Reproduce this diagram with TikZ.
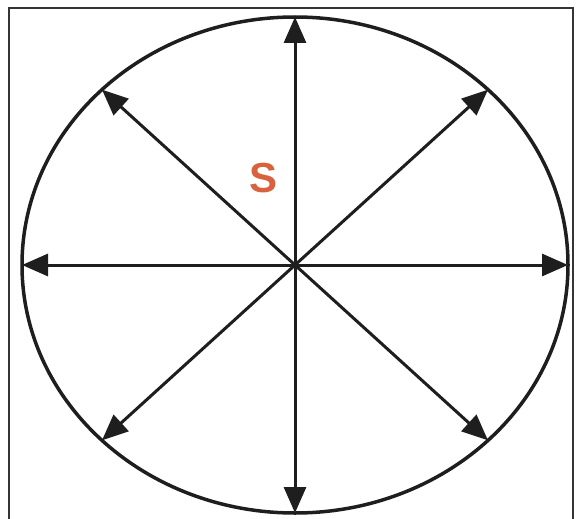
\documentclass[tikz,border=0pt]{standalone}
\usepackage{fontspec}
\setmainfont{Liberation Sans}
\usetikzlibrary{arrows.meta,calc}
\definecolor{ink}{HTML}{1E1E1E}
\definecolor{sred}{HTML}{D8623E}
\begin{document}
\begin{tikzpicture}[x=1pt,y=-1pt,
  ray/.style={draw=ink,line width=3pt,{Triangle[length=26pt,width=22pt]}-{Triangle[length=26pt,width=22pt]}},
  rim/.style={draw=ink,line width=3.5pt},
  frame/.style={draw=ink!90,line width=2pt}]
\useasboundingbox (0,0) rectangle (581,519);
\draw[frame] (9,530) -- (9,8) -- (573,8) -- (573,530);
\coordinate (c) at (295,265);
\draw[rim] (c) ellipse [x radius=273, y radius=248];
\foreach \a in {0,45,90,135} {
  \coordinate (p\a) at ($(c)+({273*cos(\a)},{-248*sin(\a)})$);
  \coordinate (q\a) at ($(c)+({-273*cos(\a)},{248*sin(\a)})$);
}
\draw[ray] (q0) -- (p0);
\draw[ray] (q45) -- (p45);
\draw[ray] (q90) -- (p90);
\draw[ray] (q135) -- (p135);
\node[text=sred,font=\bfseries\fontsize{42}{42}\selectfont,inner sep=0pt] (s) at (264,178) {S};
\end{tikzpicture}
\end{document}
